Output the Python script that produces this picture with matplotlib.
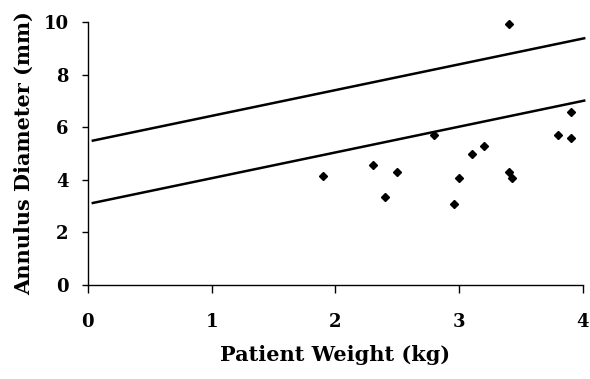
import matplotlib.pyplot as plt
import numpy as np

# data
weight = [1.90, 2.30, 2.40, 2.50, 2.80, 2.96, 3.00, 3.10, 3.20, 3.40, 3.40, 3.43, 3.80, 3.90, 3.90]
diameter = [4.16, 4.56, 3.36, 4.28, 5.69, 3.09, 4.08, 4.99, 5.29, 9.92, 4.31, 4.08, 5.72, 5.60, 6.59]

# two reference lines (intercept, slope)
upper_line = (5.45, 0.98)
lower_line = (3.08, 0.98)
line_x = [0.03, 4.02]

x_ticks = [0, 1, 2, 3, 4]
y_ticks = [0, 2, 4, 6, 8, 10]

plt.rcParams['font.family'] = ['DejaVu Serif']
plt.rcParams['font.weight'] = 'bold'

fig = plt.figure(figsize=(5.9, 3.79), dpi=100)
ax = fig.add_axes([0.149, 0.248, 0.839, 0.694])

for b, m in (upper_line, lower_line):
    xs = np.array(line_x)
    ax.plot(xs, b + m * xs, color='black', lw=1.8, solid_capstyle='butt', clip_on=False)

ax.plot(weight, diameter, 'D', color='black', markersize=4.2, linestyle='none', clip_on=False)

ax.set_xlim(0, 4)
ax.set_ylim(0, 10)
ax.set_xticks(x_ticks)
ax.set_yticks(y_ticks)
ax.spines['top'].set_visible(False)
ax.spines['right'].set_visible(False)
for s in ('left', 'bottom'):
    ax.spines[s].set_linewidth(1.0)
ax.tick_params(axis='x', direction='out', length=6, width=1.0, pad=14, labelsize=13)
ax.tick_params(axis='y', direction='out', length=4, width=1.0, pad=10, labelsize=13)
for lab in ax.get_xticklabels() + ax.get_yticklabels():
    lab.set_fontweight('bold')

ax.set_xlabel('Patient Weight (kg)', fontsize=15, fontweight='bold', labelpad=10)
ax.set_ylabel('Annulus Diameter (mm)', fontsize=15, fontweight='bold', labelpad=7)

fig.savefig('out.png', dpi=100)
